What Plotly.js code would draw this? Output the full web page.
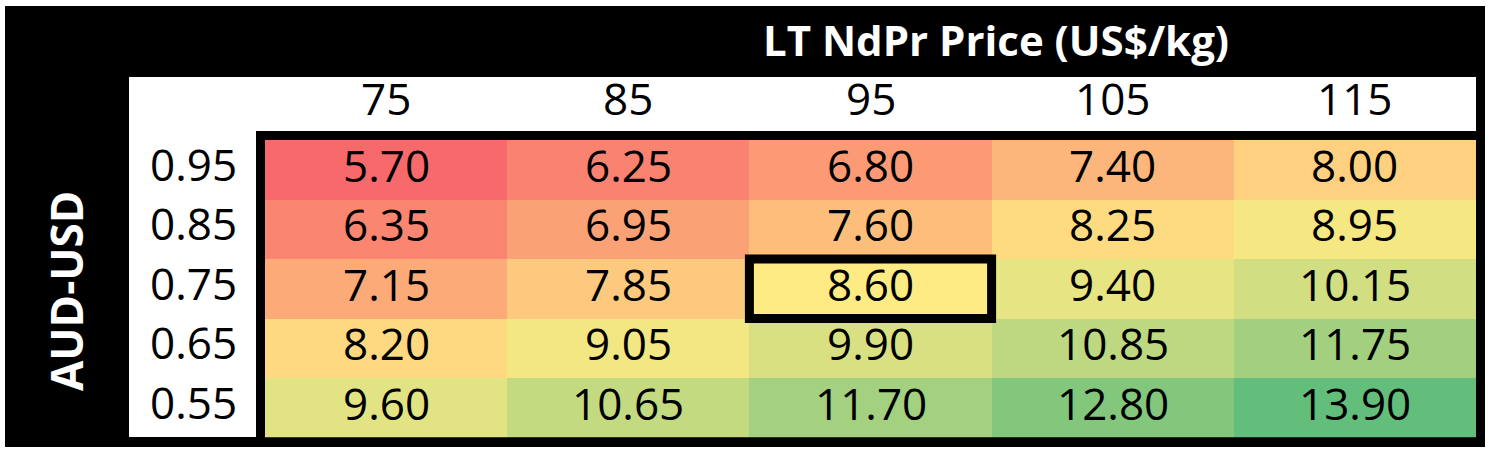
<!DOCTYPE html>
<html>
<head>
<meta charset="utf-8">
<script src="https://cdn.plot.ly/plotly-3.0.1.min.js"></script>
<style>html,body{margin:0;padding:0;background:#fff;}#chart{width:1493px;height:450px;}</style>
</head>
<body>
<div id="chart"></div>
<script>
// ---- data ----
var priceLabels = ['75', '85', '95', '105', '115'];          // LT NdPr price (US$/kg)
var fxLabels = ['0.95', '0.85', '0.75', '0.65', '0.55'];     // AUD-USD
var row095 = [5.70, 6.25, 6.80, 7.40, 8.00];
var row085 = [6.35, 6.95, 7.60, 8.25, 8.95];
var row075 = [7.15, 7.85, 8.60, 9.40, 10.15];
var row065 = [8.20, 9.05, 9.90, 10.85, 11.75];
var row055 = [9.60, 10.65, 11.70, 12.80, 13.90];
var basePrice = '95';
var baseFx = '0.75';
var titleText = 'LT NdPr Price (US$/kg)';
var sideText = 'AUD-USD';

var z = [row095, row085, row075, row065, row055];

// ---- geometry helpers (pixels -> paper) ----
var W = 1493, H = 450;
function px(x) { return x / W; }
function py(y) { return 1 - y / H; }

// Excel-style 3-colour scale: min red, 50th percentile yellow, max green
var all = [].concat.apply([], z).slice().sort(function (a, b) { return a - b; });
var zmin = all[0], zmax = all[all.length - 1];
var zmed = all[Math.floor(all.length / 2)];
var midFrac = (zmed - zmin) / (zmax - zmin);

var FONT = 'Open Sans, Segoe UI, DejaVu Sans, sans-serif';
var NUM_SIZE = 44;

var trace = {
  type: 'heatmap',
  x: priceLabels,
  y: fxLabels,
  z: z,
  zmin: zmin,
  zmax: zmax,
  colorscale: [[0, '#F8696B'], [midFrac, '#FFEB84'], [1, '#63BE7B']],
  showscale: false,
  hoverinfo: 'skip',
  xgap: 0, ygap: 0
};

var annotations = [];
// cell values
z.forEach(function (row, j) {
  row.forEach(function (v, i) {
    annotations.push({
      xref: 'x', yref: 'y', x: i, y: j, text: v.toFixed(2), showarrow: false,
      xanchor: 'center', yanchor: 'middle', yshift: 5,
      font: { family: FONT, size: NUM_SIZE, color: '#000000' }
    });
  });
});
// column headers
priceLabels.forEach(function (p, i) {
  annotations.push({
    xref: 'x', yref: 'paper', x: i, y: py(98), text: p, showarrow: false,
    xanchor: 'center', yanchor: 'middle',
    font: { family: FONT, size: NUM_SIZE, color: '#000000' }
  });
});
// row headers
fxLabels.forEach(function (f, j) {
  annotations.push({
    xref: 'paper', yref: 'y', x: px(239), y: j, text: f, showarrow: false,
    xanchor: 'right', yanchor: 'middle', yshift: 6,
    font: { family: FONT, size: NUM_SIZE, color: '#000000' }
  });
});
annotations.push({
  xref: 'paper', yref: 'paper', x: px(996), y: py(39), text: titleText, showarrow: false,
  xanchor: 'center', yanchor: 'middle',
  font: { family: FONT, size: 42, color: '#FFFFFF', weight: 700 }
});
annotations.push({
  xref: 'paper', yref: 'paper', x: px(66), y: py(291), text: sideText, showarrow: false,
  textangle: -90, xanchor: 'center', yanchor: 'middle',
  font: { family: FONT, size: 44, color: '#FFFFFF', weight: 700 }
});

var bx = priceLabels.indexOf(basePrice);
var by = fxLabels.indexOf(baseFx);

var shapes = [
  { type: 'rect', xref: 'paper', yref: 'paper', x0: px(5), x1: px(1485), y0: py(447), y1: py(6),
    fillcolor: '#000000', line: { width: 0 }, layer: 'below' },
  { type: 'rect', xref: 'paper', yref: 'paper', x0: px(129), x1: px(1476), y0: py(437), y1: py(77),
    fillcolor: '#FFFFFF', line: { width: 0 }, layer: 'below' },
  { type: 'rect', xref: 'paper', yref: 'paper', x0: px(260.5), x1: px(1480.5), y0: py(442), y1: py(135.5),
    fillcolor: 'rgba(0,0,0,0)', line: { width: 9, color: '#000000' }, layer: 'above' },
  { type: 'rect', xref: 'x', yref: 'y', x0: bx - 0.5, x1: bx + 0.5, y0: by - 0.5, y1: by + 0.5,
    fillcolor: 'rgba(0,0,0,0)', line: { width: 9, color: '#000000' }, layer: 'above' }
];

var layout = {
  width: W, height: H,
  margin: { l: 0, r: 0, t: 0, b: 0, pad: 0 },
  paper_bgcolor: '#FFFFFF',
  plot_bgcolor: 'rgba(0,0,0,0)',
  showlegend: false,
  xaxis: { domain: [px(265), px(1476)], type: 'category', range: [-0.5, priceLabels.length - 0.5],
           autorange: false, showticklabels: false, showgrid: false,
           zeroline: false, showline: false, ticks: '', fixedrange: true },
  yaxis: { domain: [py(437.5), py(140)], type: 'category', range: [fxLabels.length - 0.5, -0.5],
           autorange: false, showticklabels: false,
           showgrid: false, zeroline: false, showline: false, ticks: '', fixedrange: true },
  annotations: annotations,
  shapes: shapes
};

Plotly.newPlot('chart', [trace], layout, { displayModeBar: false, staticPlot: true });
</script>
</body>
</html>
